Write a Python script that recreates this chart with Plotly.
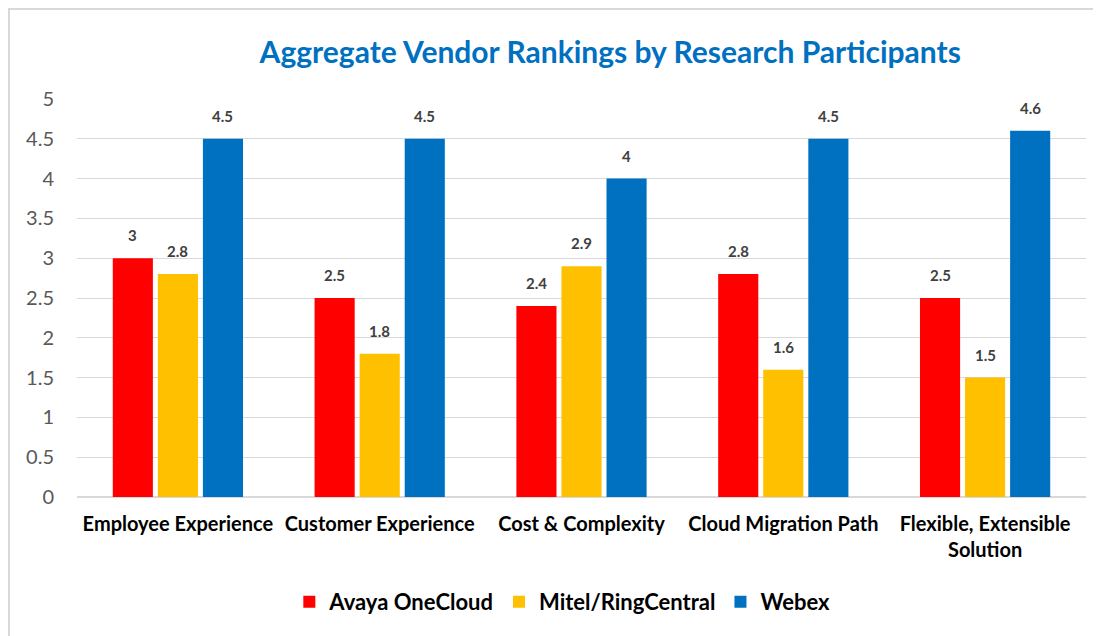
import plotly.graph_objects as go

categories = ["Employee Experience", "Customer Experience", "Cost & Complexity",
              "Cloud Migration Path", "Flexible, Extensible<br>Solution"]
series_names = ["Avaya OneCloud", "Mitel/RingCentral", "Webex"]
avaya = [3, 2.5, 2.4, 2.8, 2.5]
mitel = [2.8, 1.8, 2.9, 1.6, 1.5]
webex = [4.5, 4.5, 4.0, 4.5, 4.6]
colors = ["#FF0000", "#FFC000", "#0070C0"]
y_ticks = [0, 0.5, 1, 1.5, 2, 2.5, 3, 3.5, 4, 4.5, 5]

FONT = "Lato, Carlito, Calibri, sans-serif"

W, H = 1101, 636
ML, MR, MT, MB = 69, 23, 91, 147
BARGAP = 0.33
plot_w = W - ML - MR
plot_h = H - MT - MB
slot = plot_w / len(categories) * (1 - BARGAP) / len(series_names)

fig = go.Figure()
annotations = []
for i, (name, vals, col) in enumerate(zip(series_names, [avaya, mitel, webex], colors)):
    fig.add_trace(go.Bar(
        x=categories, y=vals, name=name, marker=dict(color=col, line=dict(width=0)),
    ))
    for c, v in zip(categories, vals):
        annotations.append(dict(
            x=c, y=v, xref="x", yref="y", text=f"<b>{v:g}</b>", showarrow=False,
            xshift=(i - 1) * slot, yshift=23, yanchor="middle",
            font=dict(family=FONT, size=15, color="#404040"),
        ))

fig.update_layout(
    width=W, height=H,
    margin=dict(l=ML, r=MR, t=MT, b=MB, autoexpand=False),
    paper_bgcolor="white", plot_bgcolor="white",
    barmode="group", bargap=BARGAP, bargroupgap=0.11,
    title=dict(text="<b>Aggregate Vendor Rankings by Research Participants</b>",
               x=0.547, xanchor="center", y=0.93, yanchor="middle",
               font=dict(family=FONT, size=30, color="#0070C0")),
    yaxis=dict(range=[0, 5], tickvals=y_ticks, ticktext=[f"{t:g}" for t in y_ticks],
               showgrid=True, gridcolor="#D9D9D9", gridwidth=1.3,
               zeroline=True, zerolinecolor="#D9D9D9", zerolinewidth=1.5,
               tickfont=dict(family=FONT, size=20, color="#595959"),
               ticks="", ticklabelstandoff=22, showline=False, automargin=False),
    xaxis=dict(tickfont=dict(family=FONT, size=20, color="#000000", weight="bold"),
               showline=False, ticks="", ticklabelstandoff=13, automargin=False),
    legend=dict(orientation="h", x=0.481, xanchor="center", y=-0.264, yanchor="middle",
                font=dict(family=FONT, size=22, color="#000000", weight="bold"),
                traceorder="normal", itemwidth=30),
    showlegend=True,
    annotations=annotations,
    shapes=[dict(type="rect", xref="paper", yref="paper",
                 x0=-(ML - 1) / plot_w, x1=(W - ML - 9) / plot_w,
                 y0=-(MB + 10) / plot_h, y1=1 + (MT - 1) / plot_h,
                 line=dict(color="#D9D9D9", width=2), layer="below")],
)

fig.write_html("out.html")
